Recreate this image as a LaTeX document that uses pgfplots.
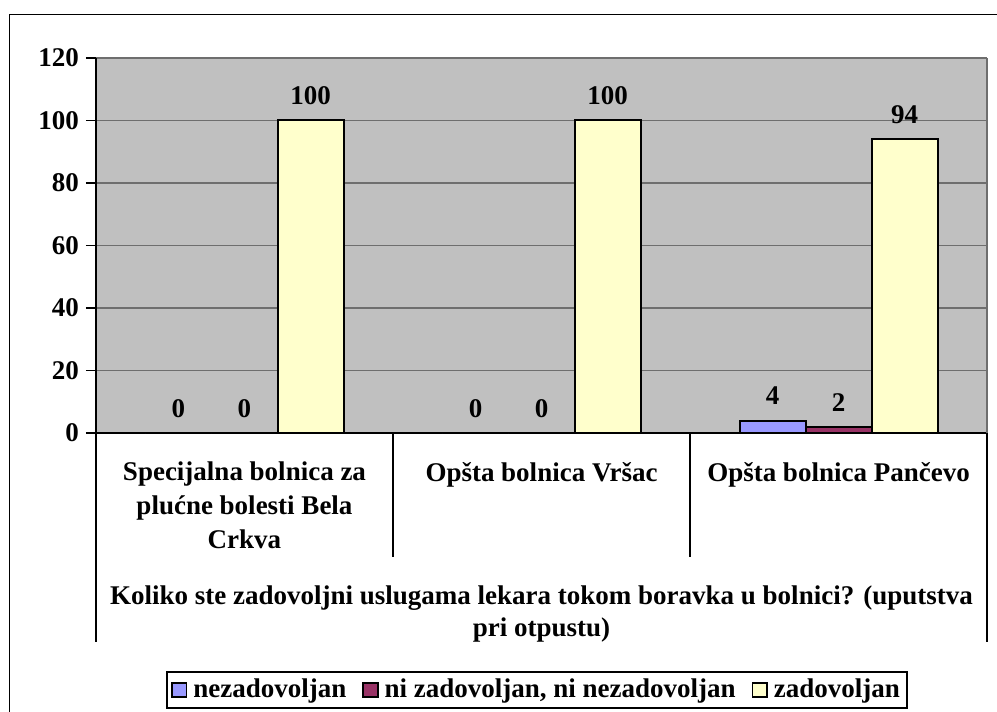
\documentclass[border=0pt]{standalone}
\usepackage{fontspec}
\setmainfont{Liberation Serif}
\usepackage{pgfplots}
\pgfplotsset{compat=1.18}
\definecolor{plotgray}{HTML}{C0C0C0}
\definecolor{gridgray}{HTML}{6E6E6E}
\definecolor{barone}{HTML}{9999FF}
\definecolor{bartwo}{HTML}{993366}
\definecolor{barthree}{HTML}{FFFFCC}
\begin{document}
\begin{tikzpicture}
\begin{axis}[
  scale only axis, clip=false,
  width=445.5pt, height=187.5pt,
  font=\fontsize{13.5}{17}\selectfont\bfseries,
  /pgf/number format/assume math mode=true,
  ymin=0, ymax=120, ytick={0,20,...,120},
  xmin=-0.5, xmax=2.5, xtick={0,1,2},
  xticklabels={{Specijalna bolnica za\\plućne bolesti Bela\\Crkva},
               {Opšta bolnica Vršac},
               {Opšta bolnica Pančevo}},
  xticklabel style={align=center, yshift=-6pt},
  x tick style={draw=none},
  y tick style={black, line width=0.8pt},
  tick align=outside, major tick length=5pt,
  axis x line*=bottom, axis y line*=left,
  axis line style={black, line width=0.8pt, -},
  axis background/.style={fill=plotgray},
  ymajorgrids, grid style={draw=gridgray, line width=0.9pt},
  ybar=0pt, bar width=33pt,
  every axis plot/.append style={draw=black, line width=1pt},
  nodes near coords,
  every node near coord/.append style={yshift=4pt, font=\fontsize{13.5}{17}\selectfont\bfseries},
  xlabel={Koliko ste zadovoljni uslugama lekara tokom boravka u bolnici? (uputstva\\pri otpustu)},
  xlabel style={at={(axis description cs:0.5,-0.388)}, anchor=north, align=center,
    font=\fontsize{13.5}{16}\selectfont\bfseries},
  legend columns=-1,
  legend style={at={(rel axis cs:0.495,-0.6853)}, anchor=center, draw=black,
    line width=0.8pt, inner sep=2pt,
    font=\fontsize{13.5}{17}\selectfont\bfseries,
    nodes={inner sep=1.5pt},
    /tikz/every odd column/.append style={column sep=1.5pt},
    /tikz/every even column/.append style={column sep=6.5pt}},
  legend image code/.code={\draw[#1, draw=black, line width=0.9pt] (0pt,-3.6pt) rectangle (7.2pt,3.6pt);},
]
\addplot[fill=barone] coordinates {(0,0) (1,0) (2,4)};
\addplot[fill=bartwo] coordinates {(0,0) (1,0) (2,2)};
\addplot[fill=barthree] coordinates {(0,100) (1,100) (2,94)};
\legend{nezadovoljan, {ni zadovoljan, ni nezadovoljan}, zadovoljan}
\draw[gridgray, line width=0.9pt] (rel axis cs:1,0) -- (rel axis cs:1,1);
\draw[black, line width=0.6pt] (rel axis cs:1/3,0) -- (rel axis cs:1/3,-0.3307);
\draw[black, line width=0.6pt] (rel axis cs:2/3,0) -- (rel axis cs:2/3,-0.3307);
\draw[black, line width=0.6pt] (rel axis cs:0,0) -- (rel axis cs:0,-0.557);
\draw[black, line width=0.6pt] (rel axis cs:1,0) -- (rel axis cs:1,-0.557);
\draw[black, line width=0.8pt] (rel axis cs:-0.0971,-0.8) -- (rel axis cs:-0.0971,1.116) -- (rel axis cs:1.1,1.116);
\coordinate (bbll) at (rel axis cs:-0.10774,-0.74133);
\coordinate (bbur) at (rel axis cs:1.01122,1.15467);
\end{axis}
\pgfresetboundingbox
\path[use as bounding box] (bbll) rectangle (bbur);
\end{tikzpicture}
\end{document}
